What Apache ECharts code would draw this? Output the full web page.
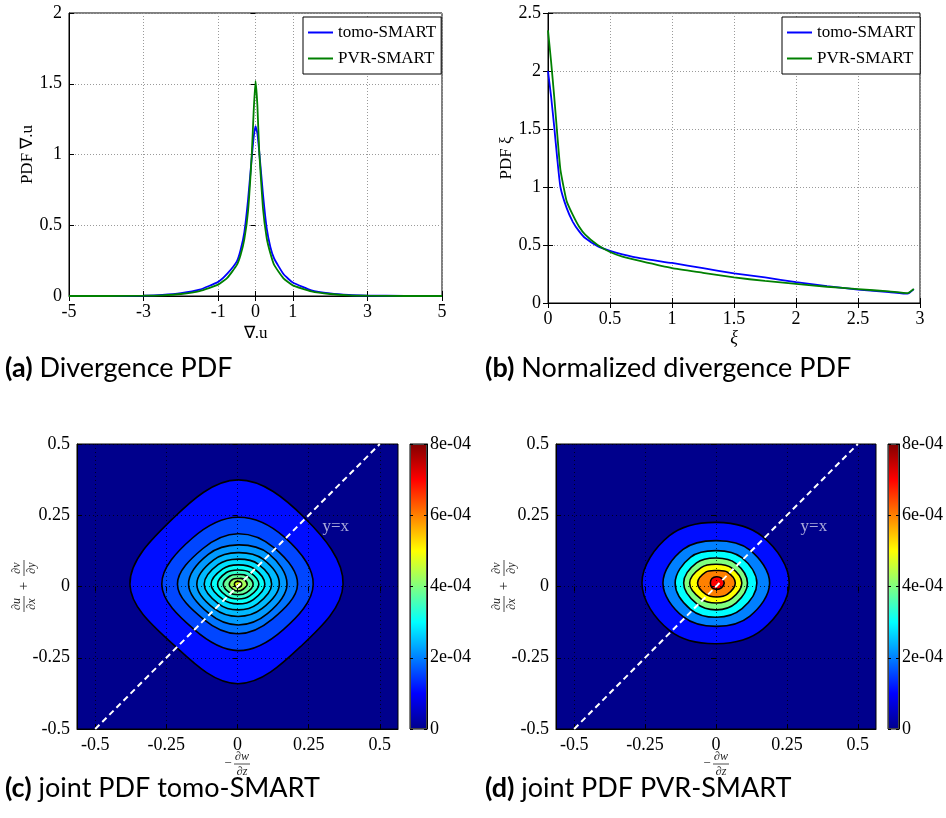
<!DOCTYPE html>
<html><head><meta charset="utf-8">
<script src="https://cdn.jsdelivr.net/npm/echarts@6/dist/echarts.min.js"></script>
<style>html,body{margin:0;padding:0;background:#fff}#c{width:946px;height:818px}</style>
</head><body><div id="c"></div><script>
// ---------- data ----------
const divX    = [-5,-4,-3,-2.5,-2,-1.5,-1,-0.75,-0.5,-0.4,-0.3,-0.2,-0.1,-0.05,0,0.05,0.1,0.2,0.3,0.4,0.5,0.75,1,1.5,2,2.5,3,4,5];
const divTomo = [0,0.0005,0.003,0.008,0.02,0.045,0.1,0.16,0.245,0.325,0.45,0.68,0.98,1.12,1.2,1.15,1.02,0.72,0.48,0.345,0.265,0.155,0.095,0.04,0.018,0.007,0.003,0.0005,0];
const divPvr  = [0,0,0.002,0.005,0.014,0.035,0.08,0.13,0.22,0.29,0.4,0.6,1.0,1.3,1.52,1.35,1.02,0.62,0.41,0.3,0.22,0.125,0.075,0.033,0.014,0.005,0.002,0,0];
const xiX     = [0,0.025,0.05,0.075,0.1,0.15,0.2,0.25,0.3,0.4,0.5,0.6,0.75,1,1.25,1.5,1.75,2,2.25,2.5,2.75,2.9,2.95];
const xiTomo  = [2.0,1.78,1.52,1.24,1.0,0.82,0.7,0.62,0.56,0.49,0.45,0.42,0.385,0.345,0.3,0.255,0.22,0.18,0.145,0.115,0.095,0.08,0.12];
const xiPvr   = [2.35,2.08,1.78,1.45,1.15,0.88,0.76,0.66,0.59,0.5,0.44,0.4,0.36,0.3,0.26,0.22,0.19,0.165,0.14,0.12,0.1,0.085,0.12];
const seriesNames = ['tomo-SMART','PVR-SMART'];
const divXTicks = [-5,-3,-1,0,1,3,5];
const jointTicks = [-0.5,-0.25,0,0.25,0.5];
const cbTicks = [0,2e-4,4e-4,6e-4,8e-4];
const cbTickLabels = ['0','2e-04','4e-04','6e-04','8e-04'];
// joint PDF contours: region value (colour) and radii [E,NE,N,NW,W,SW,S,SE] around a centre
const tomoCenter = [0.002,0.008];
const tomoLevels = [1.1e-4,1.55e-4,1.9e-4,2.2e-4,2.45e-4,2.75e-4,3.05e-4,3.4e-4,3.8e-4,4.3e-4,4.8e-4];
const tomoRadii = [
  [.369,.33,.366,.325,.38,.31,.349,.31],
  [.264,.232,.235,.228,.268,.222,.233,.225],
  [.209,.18,.177,.176,.213,.173,.174,.172],
  [.172,.152,.138,.148,.174,.145,.143,.146],
  [.145,.124,.111,.121,.145,.12,.113,.12],
  [.118,.1,.088,.098,.119,.097,.09,.097],
  [.094,.078,.068,.076,.095,.075,.069,.076],
  [.073,.059,.05,.058,.072,.058,.052,.058],
  [.053,.042,.034,.041,.052,.042,.037,.042],
  [.032,.026,.02,.025,.031,.025,.024,.025],
  [.013,.012,.01,.012,.013,.012,.012,.012]
];
const pvrCenter = [0.002,0.012];
const pvrLevels = [1.1e-4,2e-4,3e-4,4e-4,5e-4,6e-4,7e-4];
const pvrRadii = [
  [.256,.23,.213,.235,.263,.235,.213,.23],
  [.187,.165,.149,.167,.189,.167,.152,.165],
  [.142,.126,.114,.129,.146,.13,.12,.127],
  [.109,.097,.088,.1,.116,.101,.094,.098],
  [.089,.075,.066,.077,.095,.078,.07,.076],
  [.066,.054,.044,.054,.067,.055,.049,.055],
  [.027,.024,.022,.023,.022,.023,.022,.024]
];
const diagLine = [[-0.5,-0.5],[0.5,0.5]];
const diagLabelPos = [0.345,0.21];
const jet = ['#00008C','#0000FF','#0080FF','#00FFFF','#80FF80','#FFFF00','#FF8000','#FF0000','#800000'];

// ---------- chart ----------
const chart = echarts.init(document.getElementById('c'));
const serif = 'Liberation Serif';
const labelFamily = '"Times New Roman", "Liberation Serif", serif';
const tickRich = {t: {fontFamily: labelFamily, fontSize: 18, color: '#000'}};
const numFmt = v => '{t|' + String(Math.round(v * 1000) / 1000) + '}';
function axis(o) {
  const base = {
    type: 'value',
    axisLine: {show: true, onZero: false, lineStyle: {color: '#000', width: 1}},
    axisTick: {show: true, inside: true, length: 5, lineStyle: {color: '#000'}},
    axisLabel: {margin: 7, formatter: numFmt, rich: tickRich, fontFamily: labelFamily, fontSize: 18, color: '#000'},
    splitLine: {show: true, lineStyle: {color: '#9a9a9a', type: [1, 2], width: 1}},
    nameTextStyle: {fontFamily: serif, fontSize: 17, color: '#000'}
  };
  for (const k in o) {
    if (base[k] && typeof base[k] === 'object' && !Array.isArray(base[k]) && typeof o[k] === 'object') base[k] = Object.assign({}, base[k], o[k]);
    else base[k] = o[k];
  }
  return base;
}
// mirrored (box) axis: ticks only
function mirror(o, len) {
  const tick = Object.assign({show: true, inside: true, length: len || 5, lineStyle: {color: '#000'}}, o.axisTick || {});
  return Object.assign({type: 'value', axisLine: {show: false}, axisLabel: {show: false}, splitLine: {show: false}}, o, {axisTick: tick});
}
function contourItem(radii, center) {
  return function (params, api) {
    const r = radii[params.dataIndex];
    const pts = r.map((rad, k) => {
      const a = k * Math.PI / 4;
      return api.coord([center[0] + rad * Math.cos(a), center[1] + rad * Math.sin(a)]);
    });
    return {type: 'polygon', shape: {points: pts, smooth: 0.37},
      style: {fill: api.visual('color'), stroke: '#000', lineWidth: 1.6}};
  };
}
const zip = (xs, ys) => xs.map((x, i) => [x, ys[i]]);
const jetGradient = () => new echarts.graphic.LinearGradient(0, 1, 0, 0, jet.map((c, i) => ({offset: i / (jet.length - 1), color: c})));
const cbFmt = v => { const i = cbTicks.findIndex(t => Math.abs(t - v) < 1e-9); return i >= 0 ? '{t|' + cbTickLabels[i] + '}' : ''; };

const grids = [
  {left: 69, top: 13, width: 373, height: 283},
  {left: 548, top: 13, width: 372, height: 290},
  {left: 77, top: 444, width: 321, height: 285, backgroundColor: '#00008C'},
  {left: 556, top: 444, width: 320, height: 285, backgroundColor: '#00008C'},
  {left: 410, top: 444, width: 17, height: 285},
  {left: 888, top: 444, width: 17, height: 285}
].map(g => Object.assign({show: true, borderColor: '#000', borderWidth: 1, containLabel: false}, g));

const jointSplit = {show: true, lineStyle: {color: '#000', type: [1, 3], width: 1, opacity: 0.75}};
const option = {
  animation: false,
  backgroundColor: '#fff',
  textStyle: {fontFamily: serif},
  grid: grids,
  xAxis: [
    axis({gridIndex: 0, min: -5, max: 5, name: '\u2207.u', nameLocation: 'middle', nameGap: 29,
      axisLabel: {customValues: divXTicks}, axisTick: {customValues: divXTicks}}),
    axis({gridIndex: 1, min: 0, max: 3, interval: 0.5, name: '\u03be', nameLocation: 'middle', nameGap: 24,
      nameTextStyle: {fontFamily: serif, fontSize: 18, fontStyle: 'italic', color: '#000'}}),
    axis({gridIndex: 2, min: -0.564, max: 0.564, z: 3, splitLine: jointSplit,
      axisLabel: {customValues: jointTicks}, axisTick: {customValues: jointTicks}}),
    axis({gridIndex: 3, min: -0.564, max: 0.564, z: 3, splitLine: jointSplit,
      axisLabel: {customValues: jointTicks}, axisTick: {customValues: jointTicks}}),
    {type: 'category', gridIndex: 4, data: ['cb'], show: false},
    {type: 'category', gridIndex: 5, data: ['cb'], show: false},
    mirror({gridIndex: 0, position: 'top', min: -5, max: 5, axisTick: {customValues: divXTicks}}),
    mirror({gridIndex: 1, position: 'top', min: 0, max: 3, interval: 0.5}),
    mirror({gridIndex: 2, position: 'top', min: -0.564, max: 0.564, z: 3, axisTick: {customValues: jointTicks}}),
    mirror({gridIndex: 3, position: 'top', min: -0.564, max: 0.564, z: 3, axisTick: {customValues: jointTicks}})
  ],
  yAxis: [
    axis({gridIndex: 0, min: 0, max: 2, interval: 0.5, name: 'PDF \u2207.u', nameLocation: 'middle', nameGap: 26, nameRotate: 90}),
    axis({gridIndex: 1, min: 0, max: 2.5, interval: 0.5, name: 'PDF \u03be', nameLocation: 'middle', nameGap: 28, nameRotate: 90}),
    axis({gridIndex: 2, min: -0.5, max: 0.5, interval: 0.25, z: 3, splitLine: jointSplit}),
    axis({gridIndex: 3, min: -0.5, max: 0.5, interval: 0.25, z: 3, splitLine: jointSplit}),
    axis({gridIndex: 4, min: 0, max: 8e-4, position: 'right', splitLine: {show: false},
      axisLabel: {customValues: cbTicks, formatter: cbFmt, margin: 3}, axisTick: {customValues: cbTicks, length: 3}, z: 3}),
    axis({gridIndex: 5, min: 0, max: 8e-4, position: 'right', splitLine: {show: false},
      axisLabel: {customValues: cbTicks, formatter: cbFmt, margin: 3}, axisTick: {customValues: cbTicks, length: 3}, z: 3}),
    mirror({gridIndex: 0, position: 'right', min: 0, max: 2, interval: 0.5}),
    mirror({gridIndex: 1, position: 'right', min: 0, max: 2.5, interval: 0.5}),
    mirror({gridIndex: 2, position: 'right', min: -0.5, max: 0.5, interval: 0.25, z: 3}),
    mirror({gridIndex: 3, position: 'right', min: -0.5, max: 0.5, interval: 0.25, z: 3}),
    mirror({gridIndex: 4, position: 'left', min: 0, max: 8e-4, z: 3, axisTick: {customValues: cbTicks}}, 3),
    mirror({gridIndex: 5, position: 'left', min: 0, max: 8e-4, z: 3, axisTick: {customValues: cbTicks}}, 3)
  ],
  visualMap: [{type: 'continuous', show: false, min: 0, max: 8e-4, dimension: 2, seriesIndex: [4, 5], inRange: {color: jet}}],
  legend: [0, 1].map(i => ({
    data: seriesNames, orient: 'vertical', left: i === 0 ? 303 : 782, top: 17,
    icon: 'rect', itemWidth: 25, itemHeight: 2, itemGap: 9, padding: [7, 5, 7, 5],
    borderColor: '#000', borderWidth: 1, backgroundColor: '#fff', borderRadius: 0,
    textStyle: {fontFamily: serif, fontSize: 17, color: '#000'}
  })),
  series: [
    {name: seriesNames[0], type: 'line', xAxisIndex: 0, yAxisIndex: 0, data: zip(divX, divTomo), symbol: 'none', smooth: 0.15, lineStyle: {color: '#0000FF', width: 1.8}, itemStyle: {color: '#0000FF'}},
    {name: seriesNames[1], type: 'line', xAxisIndex: 0, yAxisIndex: 0, data: zip(divX, divPvr), symbol: 'none', smooth: 0.15, lineStyle: {color: '#008000', width: 1.8}, itemStyle: {color: '#008000'}},
    {name: seriesNames[0], type: 'line', xAxisIndex: 1, yAxisIndex: 1, data: zip(xiX, xiTomo), symbol: 'none', smooth: 0.15, lineStyle: {color: '#0000FF', width: 1.8}, itemStyle: {color: '#0000FF'}},
    {name: seriesNames[1], type: 'line', xAxisIndex: 1, yAxisIndex: 1, data: zip(xiX, xiPvr), symbol: 'none', smooth: 0.15, lineStyle: {color: '#008000', width: 1.8}, itemStyle: {color: '#008000'}},
    {type: 'custom', xAxisIndex: 2, yAxisIndex: 2, renderItem: contourItem(tomoRadii, tomoCenter),
      data: tomoLevels.map(l => [tomoCenter[0], tomoCenter[1], l]), encode: {x: 0, y: 1}, clip: true, z: 2},
    {type: 'custom', xAxisIndex: 3, yAxisIndex: 3, renderItem: contourItem(pvrRadii, pvrCenter),
      data: pvrLevels.map(l => [pvrCenter[0], pvrCenter[1], l]), encode: {x: 0, y: 1}, clip: true, z: 2},
    {type: 'line', xAxisIndex: 2, yAxisIndex: 2, data: diagLine, symbol: 'none', z: 5, lineStyle: {color: '#fff', width: 2, type: [6, 4]}},
    {type: 'line', xAxisIndex: 3, yAxisIndex: 3, data: diagLine, symbol: 'none', z: 5, lineStyle: {color: '#fff', width: 2, type: [6, 4]}},
    {type: 'scatter', xAxisIndex: 2, yAxisIndex: 2, data: [diagLabelPos], symbolSize: 1, itemStyle: {color: 'transparent'}, z: 5,
      label: {show: true, position: 'inside', formatter: 'y=x', fontFamily: serif, fontSize: 17, color: '#d4d4ec'}},
    {type: 'scatter', xAxisIndex: 3, yAxisIndex: 3, data: [diagLabelPos], symbolSize: 1, itemStyle: {color: 'transparent'}, z: 5,
      label: {show: true, position: 'inside', formatter: 'y=x', fontFamily: serif, fontSize: 17, color: '#d4d4ec'}},
    {type: 'bar', xAxisIndex: 4, yAxisIndex: 4, data: [8e-4], barWidth: '100%', itemStyle: {color: jetGradient(), borderColor: '#444', borderWidth: 1}},
    {type: 'bar', xAxisIndex: 5, yAxisIndex: 5, data: [8e-4], barWidth: '100%', itemStyle: {color: jetGradient(), borderColor: '#444', borderWidth: 1}}
  ],
  graphic: []
};

// captions
const captions = [
  ['(a)', ' Divergence PDF', 5, 355], ['(b)', ' Normalized divergence PDF', 485, 355],
  ['(c)', ' joint PDF tomo-SMART', 5, 775], ['(d)', ' joint PDF PVR-SMART', 485, 775]
];
captions.forEach(c => option.graphic.push({type: 'text', left: c[2], top: c[3],
  style: {text: '{b|' + c[0] + '}{n|' + c[1] + '}', fill: '#000',
    rich: {b: {fontWeight: 'bold', fontFamily: 'Lato', fontSize: 27, fill: '#000'},
           n: {fontFamily: 'Lato', fontSize: 27, fill: '#000'}}}}));

// fraction labels for joint PDF axes
const fracFont = 'italic 12px "Liberation Serif"';
function fracChildren(num, den, cx) {
  return [
    {type: 'text', x: cx, y: -7, style: {text: num, font: fracFont, fill: '#222', align: 'center', verticalAlign: 'middle'}},
    {type: 'line', shape: {x1: cx - 8, y1: 0, x2: cx + 8, y2: 0}, style: {stroke: '#222', lineWidth: 0.8}},
    {type: 'text', x: cx, y: 8, style: {text: den, font: fracFont, fill: '#222', align: 'center', verticalAlign: 'middle'}}
  ];
}
[[24, 240], [504, 719]].forEach(([yl, xl]) => {
  option.graphic.push({type: 'group', x: yl, y: 586, rotation: Math.PI / 2, children: [
    ...fracChildren('\u2202u', '\u2202x', -18),
    {type: 'text', x: 0, y: 0, style: {text: '+', font: '15px "Liberation Serif"', fill: '#222', align: 'center', verticalAlign: 'middle'}},
    ...fracChildren('\u2202v', '\u2202y', 18)
  ]});
  option.graphic.push({type: 'group', x: xl, y: 764, children: [
    {type: 'text', x: -12, y: 0, style: {text: '\u2212', font: '13px "Liberation Serif"', fill: '#222', align: 'center', verticalAlign: 'middle'}},
    ...fracChildren('\u2202w', '\u2202z', 2)
  ]});
});

chart.setOption(option);
</script></body></html>
